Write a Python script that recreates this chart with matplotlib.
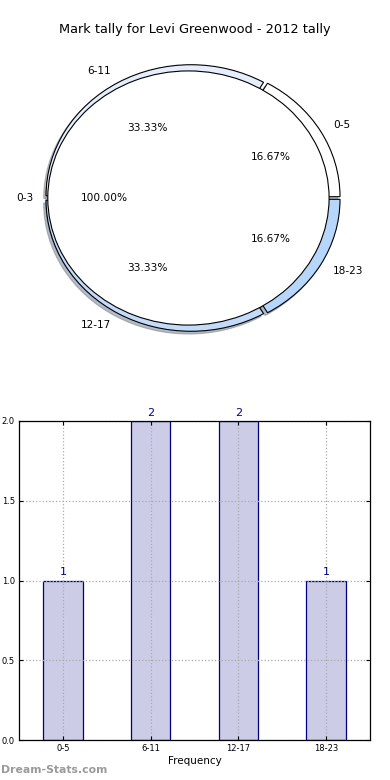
import matplotlib
matplotlib.use("Agg")
import matplotlib.pyplot as plt

TITLE = "Mark tally for Levi Greenwood - 2012 tally"
HOURS = ["0-5", "6-11", "12-17", "18-23"]
COUNTS = [1, 2, 2, 1]
RING_COLORS = ["#ffffff", "#e6edfd", "#c3dbfa", "#b7d6fc"]
INNER_LABELS = ["0-3"]
INNER_VALUES = [1]

fig = plt.figure(figsize=(3.9, 7.8), dpi=100)
fig.patch.set_facecolor("white")

# --- pie (outer ring + inner disc) ---
W, H = 390.0, 780.0
pie_ax = fig.add_axes([0, (H - 350) / H, 1, 300 / H])
wedge_kw = dict(edgecolor="black", linewidth=0.8)
shadow_kw = dict(ox=-0.012, oy=-0.015, shade=0.45)
pie_ax.pie(COUNTS, labels=HOURS, colors=RING_COLORS, explode=[0.02] * 4,
           autopct="%.2f%%", shadow=shadow_kw, startangle=0, wedgeprops=wedge_kw,
           textprops=dict(fontsize=7.6))
pie_ax.pie(INNER_VALUES, labels=INNER_LABELS, colors=["white"], explode=[0.028],
           radius=0.97, autopct="%.2f%%", shadow=shadow_kw, startangle=0,
           wedgeprops=wedge_kw, textprops=dict(fontsize=7.6))
pie_ax.set_aspect("auto")
sx, sy, cx, cy = 145.0, 131.0, 192.5, 198.0
pie_ax.set_xlim(-cx / sx, (W - cx) / sx)
pie_ax.set_ylim(-(350 - cy) / sy, (cy - 50) / sy)
pie_ax.axis("off")
fig.text(0.5, 1 - 30 / H, TITLE, ha="center", va="center", fontsize=9.3)

# --- bar chart ---
bar_ax = fig.add_axes([19 / W, 40 / H, 351 / W, 319 / H])
x = range(len(HOURS))
bar_ax.bar(x, COUNTS, width=0.45, color="#ccccE6", edgecolor="#000080",
           linewidth=0.9, zorder=0.5)
for xi, c in zip(x, COUNTS):
    bar_ax.text(xi, c + 0.02, str(c), ha="center", va="bottom",
                fontsize=8, color="#000080")
bar_ax.set_xlim(-0.5, 3.5)
bar_ax.set_ylim(0, 2)
bar_ax.set_xticks(list(x))
bar_ax.set_xticklabels(HOURS)
bar_ax.set_yticks([0, 0.5, 1.0, 1.5, 2.0])
bar_ax.set_yticklabels(["0.0", "0.5", "1.0", "1.5", "2.0"])
bar_ax.tick_params(labelsize=6, direction="in", length=3, top=True, right=True,
                   pad=3)
bar_ax.set_axisbelow("line")
bar_ax.grid(True, linestyle=":", color="#aaaaaa", linewidth=0.9)
bar_ax.set_xlabel("Frequency", fontsize=7.5, labelpad=2)
for s in bar_ax.spines.values():
    s.set_linewidth(0.9)
    s.set_zorder(3)

fig.text(0.002, 1 - 770 / H, "Dream-Stats.com", ha="left", va="center",
         fontsize=7.8, color="#9a9a9a", fontweight="bold")

fig.savefig("out.png", dpi=100)
